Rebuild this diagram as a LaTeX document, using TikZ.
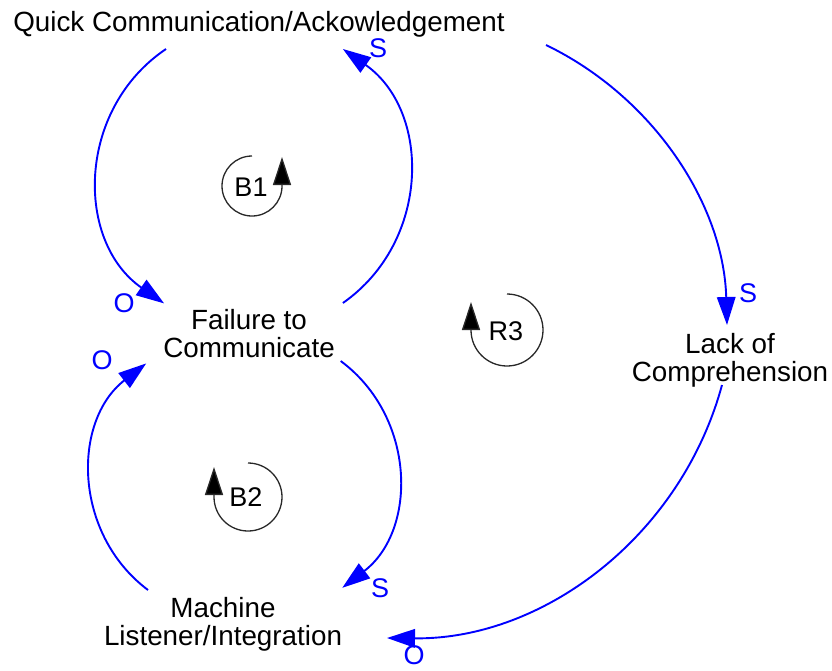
\documentclass[tikz,border=0pt]{standalone}
\usepackage{fontspec}
\setmainfont{Liberation Sans}
\usetikzlibrary{arrows.meta}
\definecolor{linkblue}{RGB}{0,0,255}
\definecolor{loopink}{RGB}{40,40,40}
\tikzset{
  var/.style={inner sep=0pt, align=center, font=\fontsize{27.8}{28}\selectfont},
  pol/.style={inner sep=0pt, text=linkblue, font=\fontsize{27}{28}\selectfont},
  looplabel/.style={inner sep=0pt, font=\fontsize{27}{28}\selectfont},
  link/.style={draw=linkblue, line width=1.9pt, -{Triangle[length=28pt,width=18.5pt]}},
  loopmark/.style={draw=loopink, line width=1.3pt, -{Triangle[length=28pt,width=18pt,fill=black]}}
}
\begin{document}
\begin{tikzpicture}[x=1pt,y=-1pt]
\useasboundingbox (0,0) rectangle (832,670);

% variables
\node[var] (quick) at (259,24.8) {Quick Communication/Ackowledgement};
\node[var] (fail)  at (249,333.2) {Failure to\\Communicate};
\node[var] (lack)  at (730,360) {Lack of\\Comprehension};
\node[var] (mach)  at (223,624) {Machine\\Listener/Integration};

% connector end points
\coordinate (qf0) at (166,49);
\coordinate (qf1) at (164.1,303.4);
\coordinate (fq0) at (342.9,303);
\coordinate (fq1) at (342.9,49);
\coordinate (mf0) at (148,590);
\coordinate (mf1) at (146.2,363.4);
\coordinate (fm0) at (340.7,361);
\coordinate (fm1) at (342.3,587.8);
\coordinate (ql0) at (546,45);
\coordinate (ql1) at (727,325);
\coordinate (lm0) at (722,385);
\coordinate (lm1) at (387,638);

% links
\draw[link] (qf0) .. controls +(146:108.3) and +(214.8:108.3) .. (qf1);
\draw[link] (fq0) .. controls +(-35:107.6) and +(35:107.6) .. (fq1);
\draw[link] (mf0) .. controls +(216.9:93.9) and +(142.2:93.9) .. (mf1);
\draw[link] (fm0) .. controls +(36.6:94.4) and +(-37.4:94.4) .. (fm1);
\draw[link] (ql0) .. controls +(25.8:119.9) and +(268.4:119.9) .. (ql1);
\draw[link] (lm0) .. controls +(105.2:156.4) and +(0.7:156.4) .. (lm1);

% polarities
\node[pol] (pqf) at (124,303) {O};
\node[pol] (pfq) at (378,48) {S};
\node[pol] (pql) at (748,293) {S};
\node[pol] (plm) at (414,655) {O};
\node[pol] (pfm) at (380,588) {S};
\node[pol] (pmf) at (102,360) {O};

% loop markers
\node[looplabel] (b1) at (251,187) {B1};
\coordinate (b1c) at (252,186);
\draw[loopmark] (b1c) ++(0,-30) arc[start angle=270, end angle=0, radius=30] -- ++(0,-29);

\node[looplabel] (b2) at (246,497) {B2};
\coordinate (b2c) at (248,497);
\draw[loopmark] (b2c) ++(0,-34) arc[start angle=270, end angle=540, radius=34] -- ++(0,-30);

\node[looplabel] (r3) at (506,331) {R3};
\coordinate (r3c) at (507,330);
\draw[loopmark] (r3c) ++(0,-36) arc[start angle=270, end angle=540, radius=36] -- ++(0,-28);
\end{tikzpicture}
\end{document}
